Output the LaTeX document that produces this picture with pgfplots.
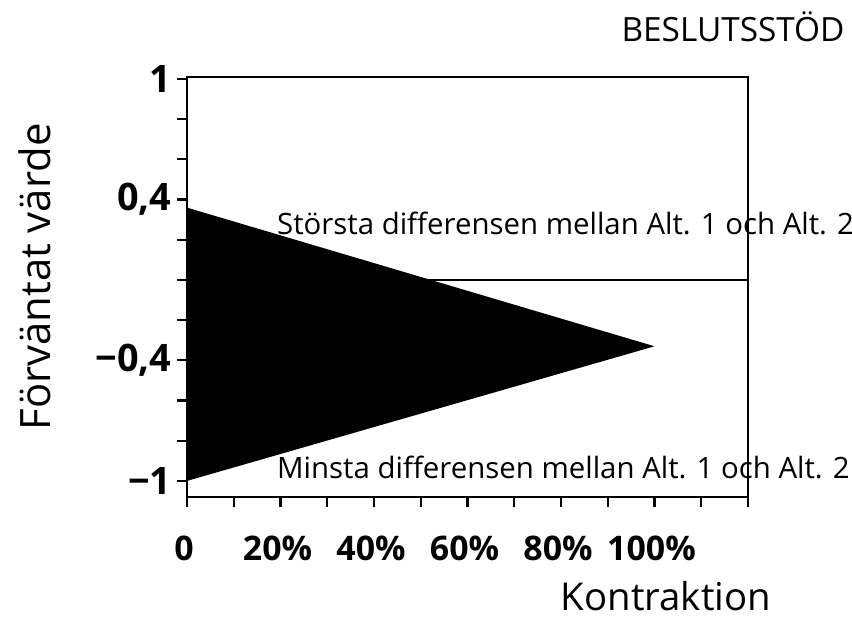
\documentclass[border=0pt]{standalone}
\usepackage{fontspec}
\setmainfont{Open Sans}
\usepackage{pgfplots}
\pgfplotsset{compat=1.18}
\begin{document}
\begin{tikzpicture}
\useasboundingbox (0,0) rectangle (852bp,623bp);
\begin{axis}[
  at={(187bp,126bp)}, anchor=south west,
  scale only axis, width=561bp, height=420bp,
  xmin=0, xmax=120, ymin=-1.08, ymax=1.01,
  axis line style={line width=2.5bp},
  tick align=outside, tick pos=left,
  major tick length=10bp,
  every tick/.style={black, line width=2.2bp},
  xtick={0,10,20,30,40,50,60,70,80,90,100,110,120},
  xticklabels={0,,20\%,,40\%,,60\%,,80\%,,100\%,,},
  ytick={-1,-0.8,-0.6,-0.4,-0.2,0,0.2,0.4,0.6,0.8,1},
  yticklabels={{−1},{},{},{−0,4},{},{},{},{0,4},{},{},{1}},
  yticklabel style={font=\fontsize{38}{38}\selectfont\bfseries, xshift=-2bp},
  xticklabel style={font=\fontsize{34}{34}\selectfont\bfseries, yshift=-25bp, xshift=-3bp},
  axis on top, clip=false,
]
\addplot[line width=2.8bp, black] coordinates {(0,0) (120,0)};
\addplot[fill=black, draw=none] coordinates {(0,0.36) (100,-0.33) (0,-1.0)} -- cycle;
\node[anchor=base west, font=\fontsize{29.5}{29.5}\selectfont, inner sep=0pt] at (axis cs:19.25,0.224) {Största differensen mellan Alt. 1 och Alt. 2};
\node[anchor=base west, font=\fontsize{29.5}{29.5}\selectfont, inner sep=0pt] at (axis cs:19.25,-0.99) {Minsta differensen mellan Alt. 1 och Alt. 2};
\end{axis}
\node[font=\fontsize{33.5}{33.5}\selectfont] at (733bp,596bp) {BESLUTSSTÖD};
\node[anchor=base, font=\fontsize{38.5}{38.5}\selectfont] at (666bp,13bp) {Kontraktion};
\node[anchor=base, font=\fontsize{42}{42}\selectfont, rotate=90] at (50bp,346bp) {Förväntat värde};
\end{tikzpicture}
\end{document}
